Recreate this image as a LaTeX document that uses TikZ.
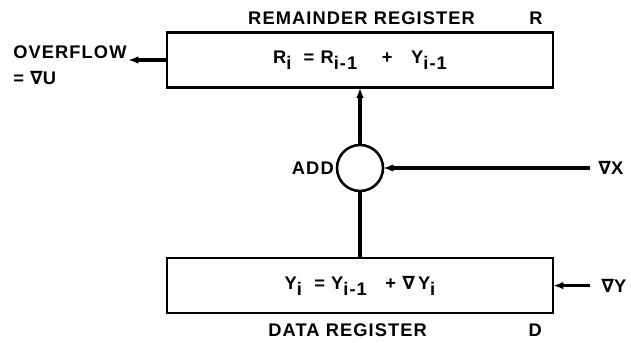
\documentclass[tikz,border=0pt]{standalone}
\usepackage{fontspec}
\setmainfont{Liberation Sans}[LetterSpace=6]
\newfontfamily\symfont{DejaVu Sans}[LetterSpace=6]
\usetikzlibrary{positioning, arrows.meta}

\newcommand{\dl}{{\symfont\bfseries ∇}}
\newcommand{\lo}[1]{\raisebox{-0.6ex}{#1}}

\begin{document}
\begin{tikzpicture}[line width=1.8pt,
    font=\bfseries\fontsize{13}{18.5}\selectfont,
    reg/.style={draw, outer sep=0pt, minimum width=9.65cm, minimum height=1.38cm},
    tip/.style={-{Latex[length=2.6mm,width=1.9mm]}},
    wire/.style={line width=2.3pt}]
    \useasboundingbox (0,0) rectangle (15.775,8.55);

    % the two registers
    \node[reg] (rem) at (9.0,7.05)
        {R\lo{i}\ \ =\ R\lo{i-1}\ \ \ \ +\ \ \ Y\lo{i-1}};
    \node[reg] (data) at (9.0,1.41)
        {Y\lo{i}\ \ =\ Y\lo{i-1}\ \ \ +\ \dl\,Y\lo{i}};

    \node (remlbl) at (9.04,8.1) {REMAINDER REGISTER};
    \node (remR) at (13.4,8.1) {R};
    \node (datalbl) at (8.69,0.3) {DATA REGISTER};
    \node (dataD) at (13.38,0.3) {D};

    % adder
    \node[draw, circle, outer sep=0pt, minimum size=1.15cm, inner sep=0pt] (add) at (9.0,4.35) {};
    \node[left=0.05cm of add, inner sep=0pt] (addlbl) {ADD};

    % free ends
    \coordinate (ov) at (3.2,7.05);
    \coordinate (inx) at (14.75,4.35);
    \coordinate (iny) at (14.75,1.41);

    \node[anchor=west, inner sep=0pt] (xlbl) at (14.93,4.35) {\dl X};
    \node[anchor=west, inner sep=0pt] (ylbl) at (15.0,1.41) {\dl Y};
    \node[anchor=west, align=left, inner sep=0pt] (ovlbl) at (0.3,6.92)
        {OVERFLOW\\= \dl U};

    \draw[wire, tip] (add) -- (rem);
    \draw[wire] (add) -- (data);
    \draw[wire, tip] (inx) -- (add);
    \draw[wire, tip] (iny) -- (data);
    \draw[wire, tip] (rem) -- (ov);
\end{tikzpicture}
\end{document}
